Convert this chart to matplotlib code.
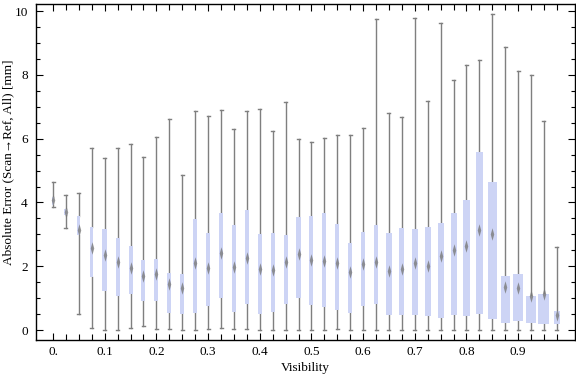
import matplotlib
matplotlib.use("Agg")
import matplotlib.pyplot as plt
import numpy as np
from matplotlib.ticker import MultipleLocator, FixedLocator
from matplotlib.path import Path

# Visibility bins (box positions)
visibility = [round(0.025 * i, 3) for i in range(40)]

whisker_hi = [4.63, 4.23, 4.31, 5.71, 5.38, 5.71, 5.82, 5.42, 6.05, 6.61,
              4.86, 6.87, 6.70, 6.90, 6.29, 6.87, 6.93, 6.23, 7.14, 5.98,
              5.91, 6.01, 6.13, 6.13, 6.33, 9.74, 6.79, 6.67, 9.77, 7.18,
              9.61, 7.83, 8.30, 8.48, 9.90, 8.86, 8.11, 7.98, 6.54, 2.59]
q3 = [4.18, 3.81, 3.57, 3.22, 3.16, 2.88, 2.65, 2.19, 2.23, 1.79,
      1.76, 3.47, 3.04, 3.67, 3.29, 3.76, 3.01, 3.04, 2.98, 3.54,
      3.57, 3.67, 3.32, 2.72, 3.07, 3.29, 3.04, 3.20, 3.17, 3.23,
      3.35, 3.67, 4.08, 5.58, 4.64, 1.69, 1.76, 1.07, 1.13, 0.60]
median = [4.08, 3.71, 3.13, 2.56, 2.35, 2.12, 1.95, 1.70, 1.76, 1.44,
          1.31, 2.09, 1.95, 2.43, 1.99, 2.27, 1.92, 1.89, 2.12, 2.40,
          2.20, 2.17, 2.11, 1.83, 2.06, 2.14, 1.86, 1.92, 2.11, 2.02,
          2.33, 2.52, 2.63, 3.13, 3.00, 1.36, 1.32, 1.08, 1.12, 0.48]
q1 = [3.92, 3.60, 2.98, 1.67, 1.23, 1.08, 1.14, 0.91, 0.91, 0.54,
      0.51, 0.54, 0.76, 1.01, 0.57, 0.83, 0.51, 0.57, 0.83, 1.01,
      0.79, 0.73, 0.64, 0.54, 0.76, 0.83, 0.48, 0.48, 0.48, 0.45,
      0.39, 0.48, 0.45, 0.51, 0.36, 0.23, 0.28, 0.23, 0.20, 0.20]
whisker_lo = [3.85, 3.21, 0.50, 0.08, 0.00, 0.00, 0.08, 0.13, 0.02, 0.02,
              0.00, 0.00, 0.02, 0.08, 0.02, 0.05, 0.00, 0.00, 0.00, 0.00,
              0.00, 0.00, 0.02, 0.00, 0.00, 0.00, 0.00, 0.00, 0.00, 0.00,
              0.00, 0.00, 0.00, 0.00, 0.00, 0.00, 0.00, 0.00, 0.00, 0.00]
# relative box widths (bin sample weight)
box_width = [2, 3, 3, 3, 5, 4, 4, 4, 4, 4,
             4, 4, 4, 4, 4, 4, 4, 4, 4, 5,
             4, 4, 4, 4, 4, 4, 6, 5, 6, 6,
             6, 6, 7, 7, 9, 9, 10, 10, 11, 6]

x_tick_labels = ["0.", "0.1", "0.2", "0.3", "0.4", "0.5", "0.6", "0.7", "0.8", "0.9"]
y_tick_labels = ["0", "2", "4", "6", "8", "10"]

plt.rcParams['font.family'] = ['Liberation Serif', 'DejaVu Serif']

fig = plt.figure(figsize=(5.76, 3.77), dpi=100)
ax = fig.add_axes([36/576, 37/377, (575-36)/576, (340-4)/377])

px = 0.1 / 51.7  # data units per pixel (x)
box_color = '#cdd4f5'
gray = '#7f7f7f'

for i, xv in enumerate(visibility):
    w = box_width[i] * px
    ax.add_patch(plt.Rectangle((xv - w/2, q1[i]), w, q3[i] - q1[i],
                               facecolor=box_color, edgecolor='none', zorder=2))
    ax.plot([xv, xv], [q3[i], whisker_hi[i]], color=gray, lw=1.0, zorder=1)
    ax.plot([xv, xv], [whisker_lo[i], q1[i]], color=gray, lw=1.0, zorder=1)
    cw = 1.5 * px
    ax.plot([xv - cw, xv + cw], [whisker_hi[i]] * 2, color=gray, lw=1.0, zorder=1)
    ax.plot([xv - cw, xv + cw], [whisker_lo[i]] * 2, color=gray, lw=1.0, zorder=1)

diamond = Path([(0, 1), (0.28, 0), (0, -1), (-0.28, 0), (0, 1)],
               [Path.MOVETO, Path.LINETO, Path.LINETO, Path.LINETO, Path.CLOSEPOLY])
ax.plot(visibility, median, linestyle='none', marker=diamond, markersize=9,
        markerfacecolor='#7a7a7a', markeredgecolor='none', alpha=0.8, zorder=3)

ax.set_xlim(-0.033, 1.01)
ax.set_ylim(-0.31, 10.22)

ax.xaxis.set_major_locator(FixedLocator([0.1 * k for k in range(10)]))
ax.set_xticklabels(x_tick_labels)
ax.xaxis.set_minor_locator(FixedLocator(visibility))
ax.yaxis.set_major_locator(FixedLocator([0, 2, 4, 6, 8, 10]))
ax.set_yticklabels(y_tick_labels)
ax.yaxis.set_minor_locator(MultipleLocator(0.5))

ax.tick_params(axis='both', which='both', direction='in', top=True, right=True,
               labelsize=9.5, colors='black', width=0.8)
ax.tick_params(axis='both', which='major', length=5)
ax.tick_params(axis='y', which='major', pad=6)
ax.tick_params(axis='x', which='minor', length=4)
ax.tick_params(axis='y', which='minor', length=3)
ax.tick_params(axis='x', which='major', pad=4)

for s in ax.spines.values():
    s.set_linewidth(1.0)

ax.set_xlabel('Visibility', fontsize=9.5)
ax.set_ylabel('Absolute Error (Scan\u2192Ref, All) [mm]', fontsize=9.5)
ax.xaxis.set_label_coords(0.5, -0.065)
ax.yaxis.set_label_coords(-0.041, 0.53)

fig.savefig('out.png', dpi=100)
